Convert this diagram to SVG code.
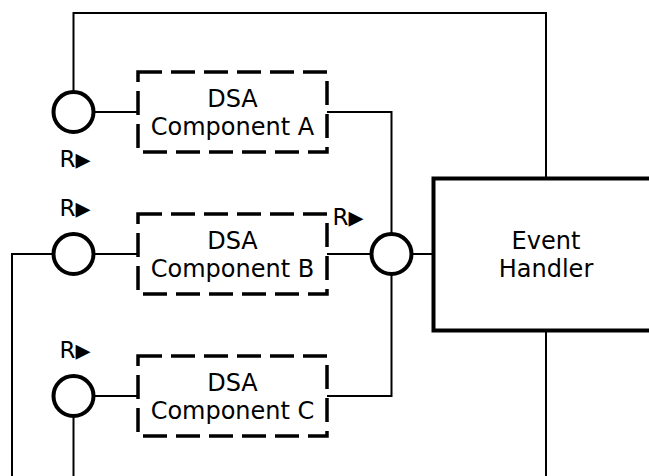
<svg xmlns="http://www.w3.org/2000/svg" width="649" height="476" viewBox="0 0 649 476">
<style>
.bg{fill:#ffffff}
.wire{fill:none;stroke:#000;stroke-width:2}
.port{fill:#fff;stroke:#000;stroke-width:4}
.comp{fill:#fff;stroke:#000;stroke-width:3.5;stroke-dasharray:24 9}
.handler{fill:#fff;stroke:#000;stroke-width:4}
.lbl{font-family:"DejaVu Sans",sans-serif;font-size:24px;fill:#000;text-anchor:middle}
.r{font-family:"DejaVu Sans",sans-serif;font-size:23px;fill:#000}
.tri{font-size:30px}
</style>
<rect class="bg" x="0" y="0" width="649" height="476"/>
<g id="connectors">
<polyline class="wire" points="73.5,92 73.5,13 546,13 546,178"/>
<line class="wire" x1="93" y1="112" x2="138" y2="112"/>
<polyline class="wire" points="327,112 391.5,112 391.5,234"/>
<polyline class="wire" points="53,254 12,254 12,476"/>
<line class="wire" x1="93" y1="254" x2="138" y2="254"/>
<line class="wire" x1="327" y1="254" x2="372" y2="254"/>
<line class="wire" x1="411" y1="254" x2="433" y2="254"/>
<polyline class="wire" points="391.5,274 391.5,396 327,396"/>
<line class="wire" x1="93" y1="396" x2="138" y2="396"/>
<line class="wire" x1="73.5" y1="416" x2="73.5" y2="476"/>
<line class="wire" x1="546" y1="330" x2="546" y2="476"/>
</g>
<g id="portA">
<circle class="port" cx="73.5" cy="112" r="20"/>
<text class="r" x="59.5" y="167">R<tspan class="tri" dx="0" dy="2">▸</tspan></text>
</g>
<g id="portB">
<circle class="port" cx="73.5" cy="254" r="20"/>
<text class="r" x="59.5" y="216">R<tspan class="tri" dx="0" dy="2">▸</tspan></text>
</g>
<g id="portC">
<circle class="port" cx="73.5" cy="396" r="20"/>
<text class="r" x="59.5" y="358">R<tspan class="tri" dx="0" dy="2">▸</tspan></text>
</g>
<g id="hub">
<circle class="port" cx="391.5" cy="254" r="20"/>
<text class="r" x="332.5" y="225">R<tspan class="tri" dx="0" dy="2">▸</tspan></text>
</g>
<g id="componentA">
<rect class="comp" x="138" y="72" width="189" height="80"/>
<text class="lbl" x="232.5" y="107">DSA</text>
<text class="lbl" x="232.5" y="135">Component A</text>
</g>
<g id="componentB">
<rect class="comp" x="138" y="214" width="189" height="80"/>
<text class="lbl" x="232.5" y="249">DSA</text>
<text class="lbl" x="232.5" y="277">Component B</text>
</g>
<g id="componentC">
<rect class="comp" x="138" y="356" width="189" height="80"/>
<text class="lbl" x="232.5" y="391">DSA</text>
<text class="lbl" x="232.5" y="419">Component C</text>
</g>
<g id="eventHandler">
<rect class="handler" x="433.5" y="178.5" width="226" height="152"/>
<text class="lbl" x="546" y="249">Event</text>
<text class="lbl" x="546" y="277">Handler</text>
</g>
</svg>
